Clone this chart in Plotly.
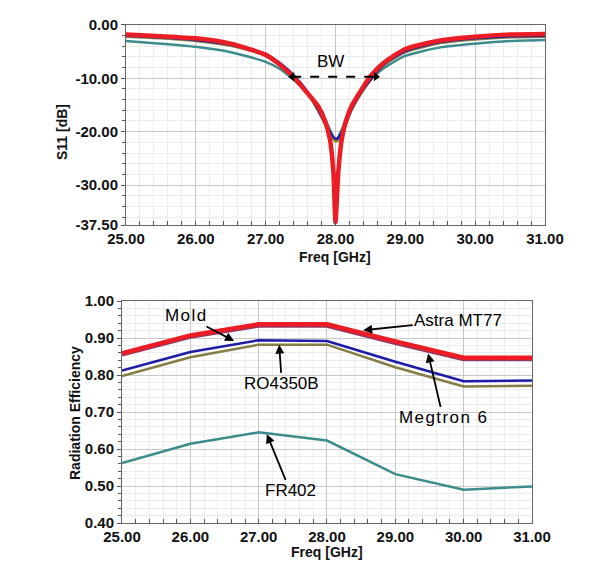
import plotly.graph_objects as go

# ---------------- data ----------------
freq_s11 = [25.0, 25.5, 26.0, 26.5, 27.0, 27.2, 27.4, 27.6, 27.75, 27.85, 27.92, 27.97, 28.0,
            28.04, 28.09, 28.15, 28.23, 28.35, 28.5, 28.7, 29.0, 29.5, 30.0, 30.5, 31.0]
s11_mold = [-1.8, -2.1, -2.5, -3.5, -5.6, -7.4, -9.8, -12.8, -15.2, -18.0, -21.4, -27.6, -37.0,
            -27.6, -21.4, -18.0, -15.2, -12.6, -9.6, -7.0, -4.5, -2.9, -2.2, -1.8, -1.7]
s11_ro4350b = [-2.0, -2.3, -2.8, -3.7, -5.4, -7.1, -9.4, -12.5, -15.8, -18.3, -20.0, -21.0, -21.3,
               -21.2, -20.0, -18.3, -15.8, -13.0, -10.2, -7.3, -4.9, -3.2, -2.5, -2.1, -2.0]
s11_megtron6 = [-2.2, -2.5, -3.0, -3.9, -5.7, -7.4, -9.7, -12.8, -16.1, -18.6, -20.4, -21.4, -21.8,
                -21.6, -20.4, -18.6, -16.0, -13.2, -10.4, -7.5, -5.1, -3.4, -2.7, -2.3, -2.2]
s11_fr402 = [-3.0, -3.5, -4.1, -5.1, -6.9, -8.2, -10.3, -12.8, -15.2, -17.6, -19.6, -21.0, -21.6,
             -21.0, -19.6, -17.6, -15.2, -12.6, -10.3, -8.0, -5.8, -4.2, -3.5, -3.0, -2.8]

freq_eff = [25.0, 26.0, 27.0, 28.0, 29.0, 30.0, 31.0]
eff_mold = [0.859, 0.907, 0.937, 0.937, 0.891, 0.847, 0.847]
eff_astra = [0.856, 0.904, 0.934, 0.934, 0.887, 0.843, 0.843]
eff_ro4350b = [0.812, 0.862, 0.894, 0.892, 0.836, 0.783, 0.785]
eff_megtron6 = [0.797, 0.848, 0.882, 0.882, 0.821, 0.769, 0.771]
eff_fr402 = [0.562, 0.614, 0.645, 0.623, 0.532, 0.490, 0.499]

x_ticks = [25, 26, 27, 28, 29, 30, 31]
s11_ticks = [0, -10, -20, -30, -37.5]
eff_ticks = [0.4, 0.5, 0.6, 0.7, 0.8, 0.9, 1.0]

RED = "#ec1c24"
BLUE = "#1c1ca8"
TEAL = "#3d8c8c"
OLIVE = "#857d45"
PURPLE = "#8c3a6a"
FONT = "Liberation Sans"

fig = go.Figure()

sp = dict(shape="spline", smoothing=0.6)
# top: S11
fig.add_trace(go.Scatter(x=freq_s11, y=s11_fr402, mode="lines", line=dict(color=TEAL, width=2.5, **sp), xaxis="x", yaxis="y"))
fig.add_trace(go.Scatter(x=freq_s11, y=s11_megtron6, mode="lines", line=dict(color=OLIVE, width=2.5, **sp), xaxis="x", yaxis="y"))
fig.add_trace(go.Scatter(x=freq_s11, y=s11_ro4350b, mode="lines", line=dict(color=BLUE, width=2.5, **sp), xaxis="x", yaxis="y"))
fig.add_trace(go.Scatter(x=freq_s11, y=s11_mold, mode="lines", line=dict(color=RED, width=4.5, **sp), xaxis="x", yaxis="y"))

# BW dashed double arrow
bw_x = [27.38, 28.58]
bw_y = [-9.7, -9.7]
fig.add_trace(go.Scatter(x=bw_x, y=bw_y, mode="lines+markers",
                         line=dict(color="black", width=2, dash="dash"),
                         marker=dict(symbol=["triangle-left", "triangle-right"], size=8, color="black"),
                         xaxis="x", yaxis="y"))

# bottom: radiation efficiency
fig.add_trace(go.Scatter(x=freq_eff, y=eff_fr402, mode="lines", line=dict(color=TEAL, width=2.5), xaxis="x2", yaxis="y2"))
fig.add_trace(go.Scatter(x=freq_eff, y=eff_megtron6, mode="lines", line=dict(color=OLIVE, width=2.5), xaxis="x2", yaxis="y2"))
fig.add_trace(go.Scatter(x=freq_eff, y=eff_ro4350b, mode="lines", line=dict(color=BLUE, width=2.5), xaxis="x2", yaxis="y2"))
fig.add_trace(go.Scatter(x=freq_eff, y=eff_astra, mode="lines", line=dict(color=PURPLE, width=4.5), xaxis="x2", yaxis="y2"))
fig.add_trace(go.Scatter(x=freq_eff, y=eff_mold, mode="lines", line=dict(color=RED, width=4.5), xaxis="x2", yaxis="y2"))

tickfont = dict(family=FONT, size=15, color="#111111")
titlefont = dict(family=FONT, size=14, color="#111111")
common = dict(showgrid=True, gridcolor="#c8c8c8", gridwidth=1, automargin=False,
              showline=True, linecolor="#666666", linewidth=1, mirror=True, zeroline=False)
xcommon = dict(ticks="inside", ticklen=4, tickcolor="#555555",
               minor=dict(dtick=0.2, showgrid=True, gridcolor="#ececec", ticks="inside", ticklen=4, tickcolor="#555555"))
ycommon = dict(ticks="outside", ticklen=4, tickcolor="#555555")

fig.update_layout(
    width=602, height=559,
    margin=dict(l=0, r=0, t=0, b=0),
    paper_bgcolor="white", plot_bgcolor="white",
    showlegend=False,
    xaxis=dict(domain=[0.196, 0.892], anchor="y", range=[25, 31], tickvals=x_ticks,
               ticktext=["<b>%.2f</b>" % v for v in x_ticks], tickfont=tickfont,
               **xcommon, **common),
    yaxis=dict(domain=[0.6118, 0.9696], anchor="x", range=[-37.5, 0], tickvals=s11_ticks,
               ticktext=["<b>%.2f</b>" % v for v in s11_ticks], tickfont=tickfont,
               minor=dict(dtick=2, showgrid=True, gridcolor="#ececec", ticks="outside", ticklen=3, tickcolor="#555555"),
               **ycommon, **common),
    xaxis2=dict(domain=[0.1894, 0.8704], anchor="y2", range=[25, 31], tickvals=x_ticks,
                ticktext=["<b>%.2f</b>" % v for v in x_ticks], tickfont=tickfont,
                **xcommon, **common),
    yaxis2=dict(domain=[0.0787, 0.4758], anchor="x2", range=[0.4, 1.0], tickvals=eff_ticks,
                ticktext=["<b>%.2f</b>" % v for v in eff_ticks], tickfont=tickfont,
                minor=dict(dtick=0.02, showgrid=True, gridcolor="#ececec", ticks="outside", ticklen=3, tickcolor="#555555"),
                **ycommon, **common),
)

# axis titles as paper annotations
for txt, px, py, ang in [("<b>S11 [dB]</b>", 0.0897, 0.7782, -90),
                         ("<b>Freq [GHz]</b>", 0.544, 0.5546, 0),
                         ("<b>Radiation Efficiency</b>", 0.1113, 0.2755, -90),
                         ("<b>Freq [GHz]</b>", 0.530, 0.0268, 0)]:
    fig.add_annotation(x=px, y=py, xref="paper", yref="paper", text=txt, textangle=ang,
                       xanchor="center", yanchor="middle", showarrow=False, font=titlefont)

ann_font = dict(family=FONT, size=17, color="black")
fig.add_annotation(x=27.93, y=-6.9, xref="x", yref="y", text="BW", showarrow=False, font=ann_font)

hs = "\u200a"
labels = [
    # text, tail(x,y) text position, head(x,y)
    (hs.join("Mold"), 25.93, 0.961, 26.64, 0.892),
    ("Astra MT77", 29.92, 0.948, 28.53, 0.921),
    ("RO4350B", 27.34, 0.776, 27.30, 0.882),
    (hs.join("Megtron 6"), 29.70, 0.684, 29.48, 0.858),
    ("FR402", 27.46, 0.487, 27.12, 0.640),
]
for txt, tx, ty, hx, hy in labels:
    fig.add_annotation(x=hx, y=hy, xref="x2", yref="y2", ax=tx, ay=ty, axref="x2", ayref="y2",
                       text=txt, showarrow=True, arrowhead=2, arrowsize=1, arrowwidth=1.8,
                       arrowcolor="black", font=ann_font, standoff=0)

fig.write_html("out.html")
